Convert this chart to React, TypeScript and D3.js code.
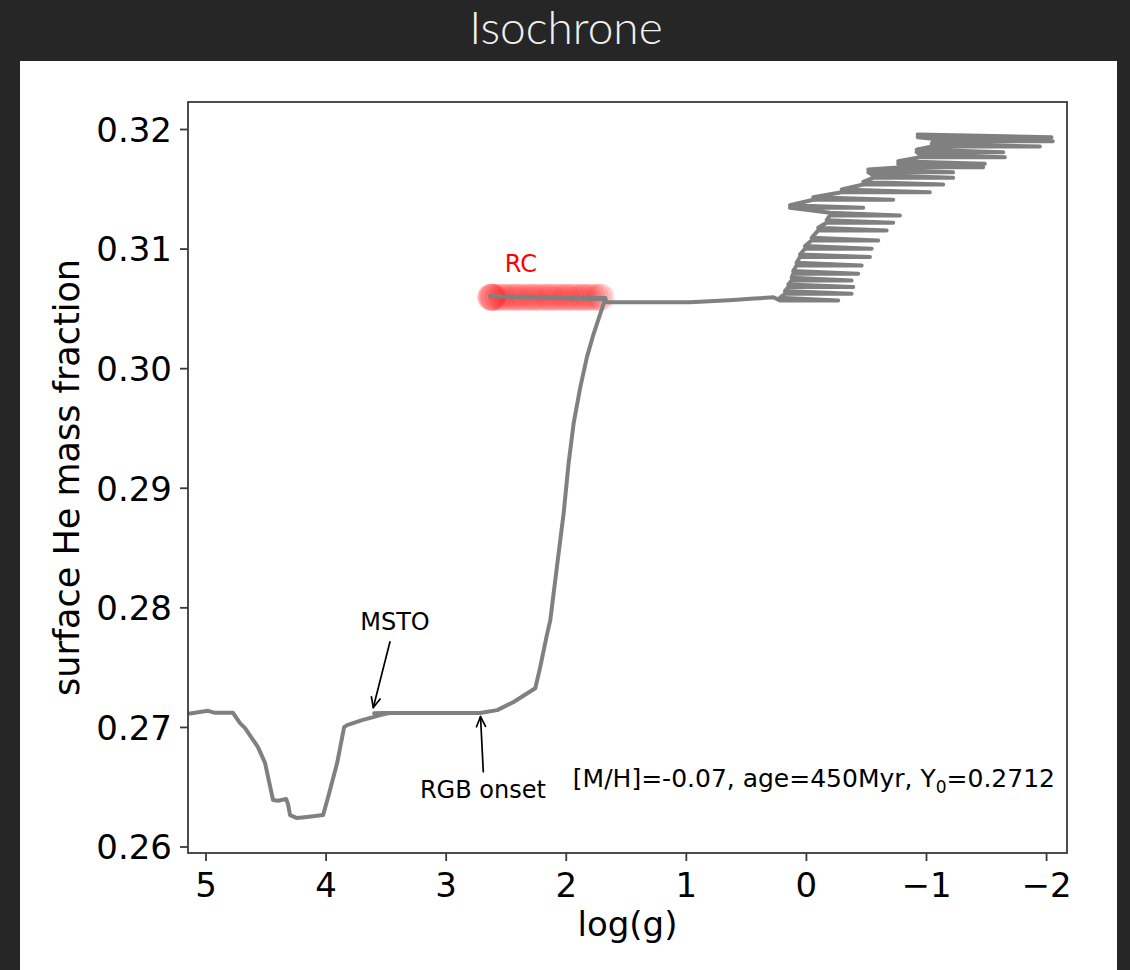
import React from "react";
import * as d3 from "d3";

// Isochrone track: surface helium mass fraction against log(g)

// Main sequence to RGB onset
const mainSeqLogg = [5.16, 5.133, 4.983, 4.925, 4.775, 4.717, 4.675, 4.567, 4.508, 4.442, 4.40, 4.333, 4.317, 4.30, 4.242, 4.158, 4.025, 3.983, 3.908, 3.85, 3.825, 3.70, 3.608, 3.55, 3.467, 3.60, 3.40, 2.717];
const mainSeqY = [0.27115, 0.27117, 0.27139, 0.27122, 0.27122, 0.27036, 0.26994, 0.26835, 0.26702, 0.26393, 0.26387, 0.26401, 0.26359, 0.26267, 0.26242, 0.26251, 0.26267, 0.26418, 0.26702, 0.27003, 0.27019, 0.27061, 0.27086, 0.27103, 0.2712, 0.27118, 0.2712, 0.2712];

// Red giant branch up to the tip
const giantLogg = [2.575, 2.442, 2.258, 2.217, 2.158, 2.133, 2.078, 2.022, 1.981, 1.939, 1.883, 1.828, 1.772, 1.717, 1.689, 1.675];
const giantY = [0.27145, 0.27211, 0.27328, 0.27504, 0.27788, 0.27896, 0.28342, 0.28788, 0.29205, 0.29540, 0.29846, 0.30097, 0.30292, 0.30458, 0.30541, 0.30592];

// Red clump and the early AGB
const clumpLogg = [2.635, 1.675, 1.661, 0.967, 0.608, 0.467, 0.275];
const clumpY = [0.30605, 0.30580, 0.30555, 0.30555, 0.30575, 0.30584, 0.30597];

// Thermally pulsing AGB: [Y, log(g) left end, log(g) right end]
const agbStrokes: [number, number, number][] = [
  [0.30571, 0.221, -0.265],
  [0.30627, 0.179, -0.376],
  [0.30682, 0.151, -0.390],
  [0.30738, 0.123, -0.376],
  [0.30794, 0.110, -0.431],
  [0.30863, 0.082, -0.460],
  [0.30933, 0.054, -0.529],
  [0.31003, 0.012, -0.543],
  [0.31072, -0.043, -0.598],
  [0.31156, -0.098, -0.668],
  [0.31220, -0.168, -0.723],
  [0.31281, -0.196, -0.779],
  [0.31345, 0.137, -0.473],
  [0.31412, -0.057, -0.723],
  [0.31476, -0.293, -1.028],
  [0.31540, -0.473, -1.139],
  [0.31596, -0.556, -1.222],
  [0.31643, -0.515, -1.222],
  [0.31685, -0.793, -1.472],
  [0.31713, -0.764, -1.486],
  [0.31768, -0.945, -1.653],
  [0.31810, -0.918, -1.639],
  [0.31858, -1.043, -1.944],
  [0.31901, -1.053, -2.052],
  [0.31936, -0.926, -2.041],
];
// Each pulse runs out and back; the return sits this much higher in Y
const agbReturnOffset = 0.00022;

// Red clump stars highlighted
const rcDotsLogg = [2.63, 2.625, 2.62, 2.61, 2.60, 2.57, 2.54, 2.52, 2.49, 2.46, 2.43, 2.41, 2.38, 2.35, 2.32, 2.29, 2.27, 2.24, 2.21, 2.18, 2.15, 2.13, 2.10, 2.07, 2.04, 2.01, 1.99, 1.96, 1.93, 1.90, 1.87, 1.85, 1.82, 1.79, 1.76, 1.73, 1.71];
const rcDotsY = 0.30598;

const xTicks = [5, 4, 3, 2, 1, 0, -1, -2];
const yTicks = [0.26, 0.27, 0.28, 0.29, 0.30, 0.31, 0.32];

const W = 1130;
const H = 970;
const L = 188, R = 1067, T = 102, B = 853;
const FONT = "'DejaVu Sans', sans-serif";

function fmtX(v: number) {
  return v < 0 ? "\u2212" + Math.abs(v) : String(v);
}

function Arrow({ x1, y1, x2, y2 }: { x1: number; y1: number; x2: number; y2: number }) {
  const a = Math.atan2(y2 - y1, x2 - x1);
  const len = 11, spread = 0.42;
  const p1 = [x2 - len * Math.cos(a - spread), y2 - len * Math.sin(a - spread)];
  const p2 = [x2 - len * Math.cos(a + spread), y2 - len * Math.sin(a + spread)];
  return (
    <g stroke="#000" strokeWidth={1.7} fill="none" strokeLinecap="round" strokeLinejoin="round">
      <line x1={x1} y1={y1} x2={x2} y2={y2} />
      <path d={`M${p1[0]},${p1[1]} L${x2},${y2} L${p2[0]},${p2[1]}`} />
    </g>
  );
}

export default function App() {
  const x = d3.scaleLinear().domain([5.15, -2.17]).range([L, R]);
  const y = d3.scaleLinear().domain([0.2595, 0.3223]).range([B, T]);

  const track: [number, number][] = [];
  mainSeqLogg.forEach((g, i) => track.push([g, mainSeqY[i]]));
  giantLogg.forEach((g, i) => track.push([g, giantY[i]]));
  clumpLogg.forEach((g, i) => track.push([g, clumpY[i]]));
  agbStrokes.forEach(([yy, gl, gr]) => {
    track.push([gl, yy]);
    track.push([gr, yy]);
    track.push([gl, yy + agbReturnOffset]);
  });

  const line = d3
    .line<[number, number]>()
    .x((d) => x(d[0]))
    .y((d) => y(d[1]));

  const msto = { tail: [3.468, 0.27716], tip: [3.607, 0.27166], text: [3.426, 0.27813] };
  const rgb = { tail: [2.691, 0.26629], tip: [2.714, 0.27091], text: [2.694, 0.26409] };

  return (
    <svg width={W} height={H} style={{ position: "absolute", left: 0, top: 0 }}>
      <rect x={0} y={0} width={W} height={H} fill="#262626" />
      <text
        x={566}
        y={44}
        textAnchor="middle"
        fill="#f0f0f0"
        fontFamily="Lato, 'Noto Sans', sans-serif"
        fontWeight={300}
        fontSize={46}
      >
        Isochrone
      </text>
      <rect x={20} y={61} width={1097} height={H - 61} fill="#ffffff" />

      <defs>
        <clipPath id="plot-area">
          <rect x={L} y={T} width={R - L} height={B - T} />
        </clipPath>
      </defs>

      <g clipPath="url(#plot-area)">
        {rcDotsLogg.map((g, i) => (
          <circle key={i} cx={x(g)} cy={y(rcDotsY)} r={13.5} fill="#ff0000" fillOpacity={0.13} />
        ))}
        <path
          d={line(track) || ""}
          fill="none"
          stroke="#808080"
          strokeWidth={4}
          strokeLinejoin="round"
          strokeLinecap="round"
        />
      </g>

      {/* annotations */}
      <text x={x(2.377)} y={y(0.30805)} textAnchor="middle" fill="#ff0000" fontFamily={FONT} fontSize={24}>
        RC
      </text>
      <text x={x(msto.text[0])} y={y(msto.text[1])} textAnchor="middle" fill="#000" fontFamily={FONT} fontSize={24}>
        MSTO
      </text>
      <Arrow x1={x(msto.tail[0])} y1={y(msto.tail[1])} x2={x(msto.tip[0])} y2={y(msto.tip[1])} />
      <text x={x(rgb.text[0])} y={y(rgb.text[1])} textAnchor="middle" fill="#000" fontFamily={FONT} fontSize={24}>
        RGB onset
      </text>
      <Arrow x1={x(rgb.tail[0])} y1={y(rgb.tail[1])} x2={x(rgb.tip[0])} y2={y(rgb.tip[1])} />
      <text x={R - 12} y={B - 66} textAnchor="end" fill="#000" fontFamily={FONT} fontSize={25}>
        [M/H]=-0.07, age=450Myr, Y
        <tspan fontSize={17} dy={6}>0</tspan>
        <tspan dy={-6}>=0.2712</tspan>
      </text>

      {/* frame */}
      <rect x={L} y={T} width={R - L} height={B - T} fill="none" stroke="#3a3a3a" strokeWidth={1.8} />

      {/* x axis */}
      {xTicks.map((t) => (
        <g key={t}>
          <line x1={x(t)} x2={x(t)} y1={B} y2={B + 8} stroke="#3a3a3a" strokeWidth={1.8} />
          <text x={x(t)} y={B + 44} textAnchor="middle" fontFamily={FONT} fontSize={34} fill="#000">
            {fmtX(t)}
          </text>
        </g>
      ))}
      <text x={(L + R) / 2} y={936} textAnchor="middle" fontFamily={FONT} fontSize={34} fill="#000">
        log(g)
      </text>

      {/* y axis */}
      {yTicks.map((t) => (
        <g key={t}>
          <line x1={L - 8} x2={L} y1={y(t)} y2={y(t)} stroke="#3a3a3a" strokeWidth={1.8} />
          <text x={L - 16} y={y(t)} dy="0.36em" textAnchor="end" fontFamily={FONT} fontSize={34} fill="#000">
            {t.toFixed(2)}
          </text>
        </g>
      ))}
      <text
        transform={`translate(${79},${(T + B) / 2}) rotate(-90)`}
        textAnchor="middle"
        fontFamily={FONT}
        fontSize={35}
        fill="#000"
      >
        surface He mass fraction
      </text>
    </svg>
  );
}
